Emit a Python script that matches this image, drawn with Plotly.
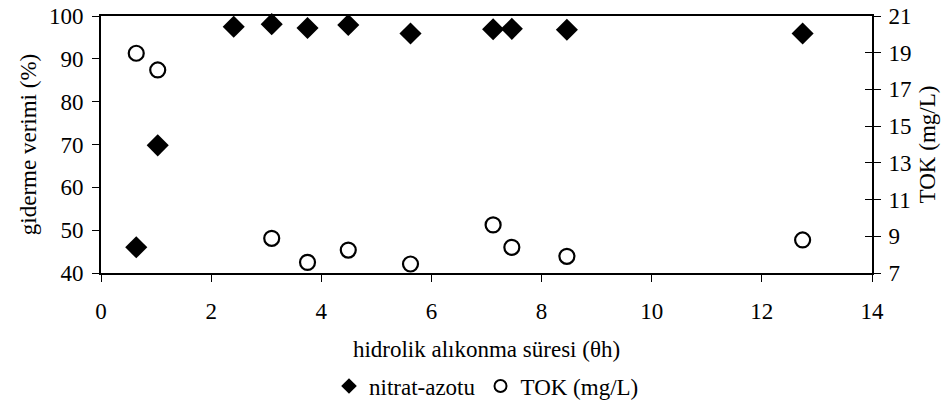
import plotly.graph_objects as go

theta_nitrat = [0.64, 1.03, 2.41, 3.10, 3.75, 4.49, 5.62, 7.12, 7.46, 8.46, 12.74]
nitrat_verim = [46.0, 69.8, 97.5, 98.1, 97.2, 97.9, 95.9, 96.9, 97.0, 96.8, 95.9]
theta_tok = [0.64, 1.03, 3.10, 3.75, 4.49, 5.62, 7.12, 7.46, 8.46, 12.74]
tok_mgL = [18.97, 18.06, 8.89, 7.58, 8.25, 7.49, 9.62, 8.40, 7.91, 8.80]

x_ticks = [0, 2, 4, 6, 8, 10, 12, 14]
y_left_ticks = [40, 50, 60, 70, 80, 90, 100]
y_right_ticks = [7, 9, 11, 13, 15, 17, 19, 21]

FONT = "Liberation Serif"
FS = 23
TFS = 23

fig = go.Figure()
fig.add_trace(go.Scatter(
    x=theta_nitrat, y=nitrat_verim, mode="markers", name="nitrat-azotu",
    marker=dict(symbol="diamond", size=17, color="black", line=dict(width=0)),
    yaxis="y", cliponaxis=False))
fig.add_trace(go.Scatter(
    x=theta_tok, y=tok_mgL, mode="markers", name="TOK (mg/L)",
    marker=dict(symbol="circle-open", size=15, color="black", line=dict(width=2.2, color="black")),
    yaxis="y2", cliponaxis=False))

fig.update_layout(
    width=951, height=410,
    margin=dict(l=101, r=79, t=16, b=137, autoexpand=False),
    paper_bgcolor="white", plot_bgcolor="white",
    font=dict(family=FONT, size=FS, color="black"),
    showlegend=True,
    legend=dict(orientation="h", x=0.5, xanchor="center", y=-0.44, yanchor="middle",
                font=dict(family=FONT, size=FS), itemsizing="constant", itemwidth=30,
                tracegroupgap=0, bgcolor="rgba(0,0,0,0)"),
    xaxis=dict(range=[0, 14], tickvals=x_ticks, ticks="outside", ticklen=7, tickwidth=1,
               tickcolor="black", showline=True, linecolor="black", linewidth=2,
               mirror=True, showgrid=False, zeroline=False, ticklabelstandoff=9,
               tickfont=dict(family=FONT, size=TFS),
               title=dict(text="hidrolik alıkonma süresi (θh)", standoff=18,
                          font=dict(family=FONT, size=FS))),
    yaxis=dict(range=[40, 100], tickvals=y_left_ticks, ticks="outside", ticklen=7,
               tickwidth=1, tickcolor="black", showline=True, linecolor="black",
               linewidth=2, showgrid=False, zeroline=False, ticklabelstandoff=4,
               tickfont=dict(family=FONT, size=TFS),
               title=dict(text="giderme verimi (%)", standoff=6,
                          font=dict(family=FONT, size=FS))),
    yaxis2=dict(range=[7, 21], tickvals=y_right_ticks, overlaying="y", side="right",
                anchor="x", ticks="outside", ticklen=7, tickwidth=1, tickcolor="black",
                showline=True, linecolor="black", linewidth=2, showgrid=False,
                zeroline=False, ticklabelstandoff=3,
                tickfont=dict(family=FONT, size=TFS),
                title=dict(text="TOK (mg/L)", standoff=8,
                           font=dict(family=FONT, size=FS))),
    yaxis3=dict(range=[7, 21], tickvals=y_right_ticks, overlaying="y", side="right",
                anchor="x", ticks="inside", ticklen=7, tickwidth=1, tickcolor="black",
                showticklabels=False, showline=False, showgrid=False, zeroline=False),
)
# invisible trace to render the inside ticks of the right axis
fig.add_trace(go.Scatter(x=[None], y=[None], yaxis="y3", showlegend=False, hoverinfo="skip"))

fig.write_html("out.html")
